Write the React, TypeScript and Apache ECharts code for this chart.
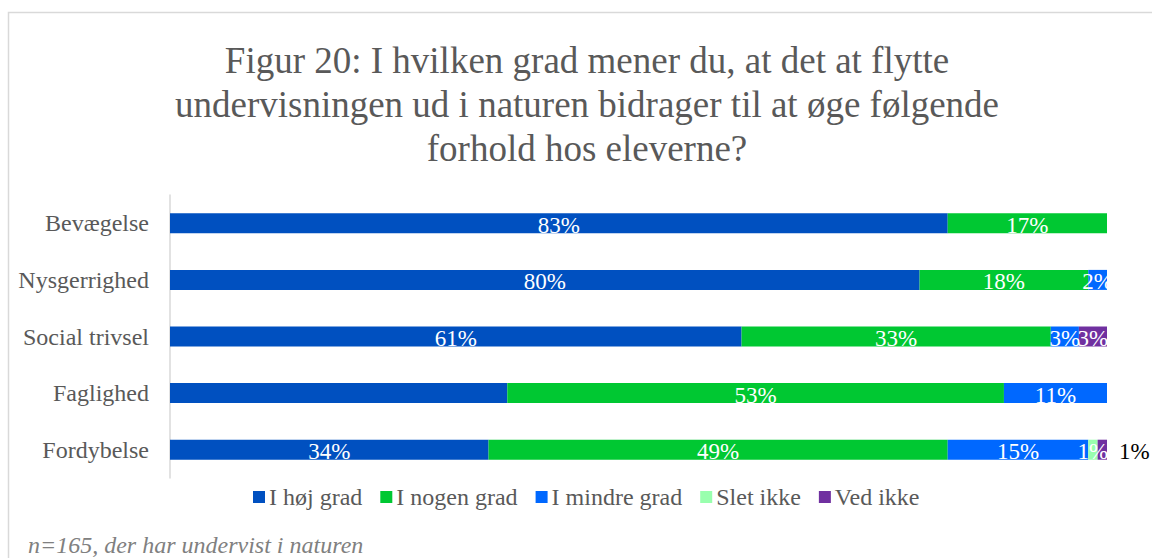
import React, { useEffect, useRef } from "react";
import * as echarts from "echarts";

const categories = ["Bevægelse", "Nysgerrighed", "Social trivsel", "Faglighed", "Fordybelse"];
const seriesNames = ["I høj grad", "I nogen grad", "I mindre grad", "Slet ikke", "Ved ikke"];
const hoejGrad = [83, 80, 61, 36, 34];
const nogenGrad = [17, 18, 33, 53, 49];
const mindreGrad = [0, 2, 3, 11, 15];
const sletIkke = [0, 0, 0, 0, 1];
const vedIkke = [0, 0, 3, 0, 1];
const colors = ["#0050C0", "#00C832", "#0068FF", "#99FFAE", "#7030A0"];
const titleText = "Figur 20: I hvilken grad mener du, at det at flytte\nundervisningen ud i naturen bidrager til at øge følgende\nforhold hos eleverne?";
const footnote = "n=165, der har undervist i naturen";

const FONT = "'Liberation Serif', 'Times New Roman', serif";

export default function App() {
  const ref = useRef<HTMLDivElement>(null);
  useEffect(() => {
    if (!ref.current) return;
    const chart = echarts.init(ref.current, null, { renderer: "svg" });
    const allValues = [hoejGrad, nogenGrad, mindreGrad, sletIkke, vedIkke];
    const series = allValues.map((vals, si) => ({
      name: seriesNames[si],
      type: "bar",
      stack: "total",
      barWidth: 20,
      itemStyle: { color: colors[si] },
      data: vals.map((v, ci) => {
        const hidden = v === 0 || (si === 0 && categories[ci] === "Faglighed");
        const outside = si === 4 && categories[ci] === "Fordybelse";
        return {
          value: v,
          label: {
            show: !hidden,
            position: outside ? "right" : "inside",
            distance: outside ? 12 : 5,
            offset: [0, 2],
            color: outside ? "#000000" : "#ffffff",
            formatter: "{c}%",
            fontFamily: FONT,
            fontSize: 23,
          },
        };
      }),
    }));
    chart.setOption({
      animation: false,
      backgroundColor: "#ffffff",
      title: {
        text: titleText,
        left: 582,
        top: 33,
        textAlign: "center",
        textStyle: {
          fontFamily: FONT,
          fontSize: 37,
          fontWeight: "normal",
          color: "#595959",
          lineHeight: 44,
        },
      },
      legend: {
        data: seriesNames,
        left: 248,
        top: 480,
        icon: "rect",
        itemWidth: 12,
        itemHeight: 12,
        itemGap: 18,
        textStyle: { fontFamily: FONT, fontSize: 24, color: "#595959", padding: [0, 0, 0, -1] },
      },
      grid: { left: 170, right: 45, top: 195, height: 283 },
      xAxis: {
        type: "value",
        min: 0,
        max: 100,
        show: false,
      },
      yAxis: {
        type: "category",
        inverse: true,
        data: categories,
        axisLine: { show: true, lineStyle: { color: "#d9d9d9", width: 1.5 } },
        axisTick: { show: false },
        axisLabel: { fontFamily: FONT, fontSize: 24, color: "#595959", margin: 21 },
      },
      graphic: [
        {
          type: "rect",
          shape: { x: 8.5, y: 12.5, width: 1300, height: 700 },
          style: { fill: "none", stroke: "#d9d9d9", lineWidth: 1.5 },
          silent: true,
          z: -10,
        },
        {
          type: "text",
          left: 28,
          top: 533,
          style: {
            text: footnote,
            fontFamily: FONT,
            fontSize: 24,
            fontStyle: "italic",
            fill: "#808080",
          },
        },
      ],
      series,
    });
    return () => chart.dispose();
  }, []);
  return (
    <div
      ref={ref}
      style={{ position: "fixed", left: 0, top: 0, width: 1152, height: 558 }}
    />
  );
}
